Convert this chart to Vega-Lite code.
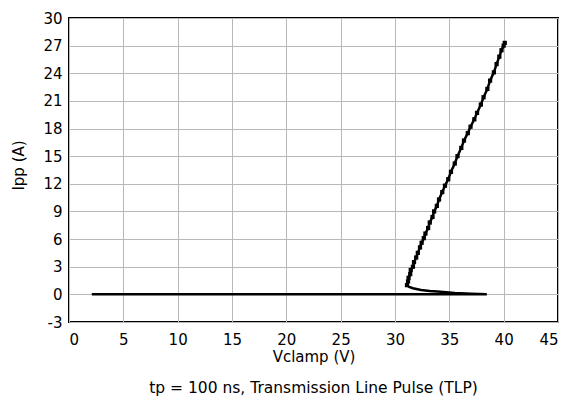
{
  "$schema": "https://vega.github.io/schema/vega-lite/v6.json",
  "width": 489,
  "height": 304,
  "autosize": "none",
  "padding": {"left": 69, "top": 18, "right": 12, "bottom": 78},
  "background": "white",
  "config": {
    "font": "DejaVu Sans",
    "view": {"stroke": "black", "strokeWidth": 2},
    "axis": {
      "labelFont": "DejaVu Sans",
      "titleFont": "DejaVu Sans",
      "labelFontSize": 15,
      "titleFontSize": 15,
      "labelColor": "black",
      "titleColor": "black",
      "titleFontWeight": "normal",
      "ticks": false,
      "domain": false,
      "gridColor": "#b8b8b8",
      "gridWidth": 1,
      "gridOpacity": 1,
      "labelExpr": "toString(datum.value)"
    }
  },
  "title": {
    "text": "tp = 100 ns, Transmission Line Pulse (TLP)",
    "orient": "bottom",
    "anchor": "middle",
    "font": "DejaVu Sans",
    "fontSize": 15.5,
    "fontWeight": "normal",
    "color": "black",
    "offset": 17
  },
  "data": {
    "values": [
      {"i": 1, "v": 2.1, "a": 0},
      {"i": 2, "v": 5, "a": 0},
      {"i": 3, "v": 10, "a": 0},
      {"i": 4, "v": 15, "a": 0},
      {"i": 5, "v": 20, "a": 0},
      {"i": 6, "v": 25, "a": 0},
      {"i": 7, "v": 30, "a": 0},
      {"i": 8, "v": 35, "a": 0.01},
      {"i": 9, "v": 38.45, "a": 0.02},
      {"i": 10, "v": 37.0, "a": 0.08},
      {"i": 11, "v": 35.5, "a": 0.15},
      {"i": 12, "v": 34.7, "a": 0.22},
      {"i": 13, "v": 33.9, "a": 0.3},
      {"i": 14, "v": 33.2, "a": 0.37},
      {"i": 15, "v": 32.4, "a": 0.48},
      {"i": 16, "v": 31.65, "a": 0.66},
      {"i": 17, "v": 31.3, "a": 0.82},
      {"i": 18, "v": 31.1, "a": 1.0},
      {"i": 19, "v": 31.2, "a": 1.4},
      {"i": 20, "v": 31.25, "a": 1.8},
      {"i": 21, "v": 31.4, "a": 2.2},
      {"i": 22, "v": 31.45, "a": 2.65},
      {"i": 23, "v": 31.65, "a": 3.0},
      {"i": 24, "v": 31.75, "a": 3.5},
      {"i": 25, "v": 31.95, "a": 4.0},
      {"i": 26, "v": 32.1, "a": 4.5},
      {"i": 27, "v": 32.3, "a": 5.1},
      {"i": 28, "v": 32.45, "a": 5.6},
      {"i": 29, "v": 32.65, "a": 6.1},
      {"i": 30, "v": 32.8, "a": 6.6},
      {"i": 31, "v": 33.05, "a": 7.2},
      {"i": 32, "v": 33.2, "a": 7.8},
      {"i": 33, "v": 33.45, "a": 8.4},
      {"i": 34, "v": 33.6, "a": 9.0},
      {"i": 35, "v": 33.85, "a": 9.6},
      {"i": 36, "v": 34.05, "a": 10.3},
      {"i": 37, "v": 34.35, "a": 11.1},
      {"i": 38, "v": 34.6, "a": 11.8},
      {"i": 39, "v": 34.9, "a": 12.5},
      {"i": 40, "v": 35.15, "a": 13.3},
      {"i": 41, "v": 35.5, "a": 14.2},
      {"i": 42, "v": 35.75, "a": 15.0},
      {"i": 43, "v": 36.1, "a": 15.9},
      {"i": 44, "v": 36.35, "a": 16.7},
      {"i": 45, "v": 36.7, "a": 17.5},
      {"i": 46, "v": 36.95, "a": 18.2},
      {"i": 47, "v": 37.3, "a": 19.0},
      {"i": 48, "v": 37.55, "a": 19.7},
      {"i": 49, "v": 37.9, "a": 20.6},
      {"i": 50, "v": 38.15, "a": 21.4},
      {"i": 51, "v": 38.5, "a": 22.3},
      {"i": 52, "v": 38.75, "a": 23.2},
      {"i": 53, "v": 39.1, "a": 24.1},
      {"i": 54, "v": 39.35, "a": 25.0},
      {"i": 55, "v": 39.6, "a": 25.8},
      {"i": 56, "v": 39.8, "a": 26.5},
      {"i": 57, "v": 40.0, "a": 27.0},
      {"i": 58, "v": 40.1, "a": 27.3}
    ]
  },
  "encoding": {
    "x": {
      "field": "v",
      "type": "quantitative",
      "scale": {"domain": [0, 45], "nice": false, "zero": false},
      "axis": {"values": [0,5,10,15,20,25,30,35,40,45], "title": "Vclamp (V)", "labelPadding": 10, "titleY": 39, "titleBaseline": "alphabetic"}
    },
    "y": {
      "field": "a",
      "type": "quantitative",
      "scale": {"domain": [-3, 30], "nice": false, "zero": false},
      "axis": {"values": [-3,0,3,6,9,12,15,18,21,24,27,30], "title": "Ipp (A)", "labelPadding": 7, "titleX": -51, "titleY": 147, "titleBaseline": "middle"}
    }
  },
  "layer": [
    {
      "mark": {"type": "line", "color": "black", "strokeWidth": 2.5, "clip": true},
      "encoding": {"order": {"field": "i", "type": "quantitative"}}
    },
    {
      "transform": [{"filter": "datum.i >= 18"}],
      "mark": {"type": "point", "shape": "square", "filled": true, "color": "black", "size": 18, "opacity": 1}
    }
  ]
}
